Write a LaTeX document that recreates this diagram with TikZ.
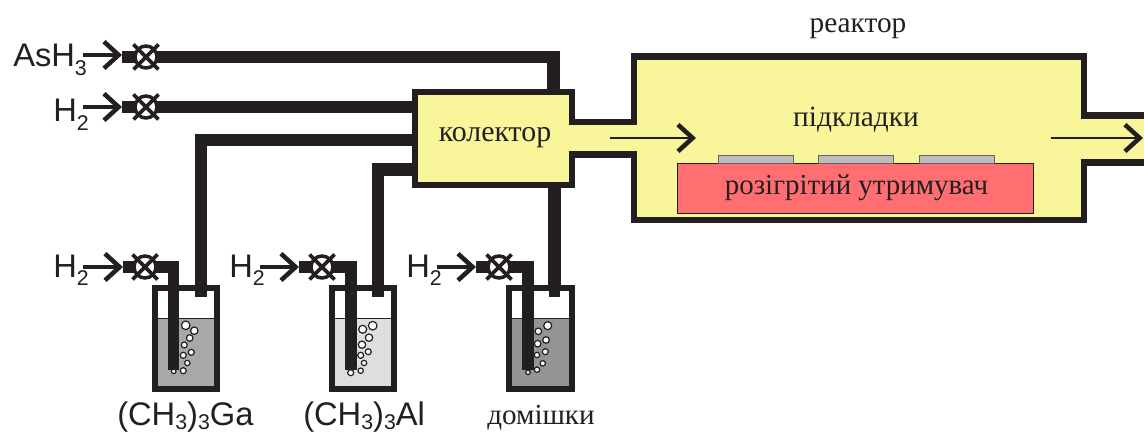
\documentclass[tikz,border=0pt]{standalone}
\usepackage{fontspec}
\setmainfont{Liberation Serif}
\newfontfamily\arialf{Liberation Sans}
\usetikzlibrary{arrows.meta}
\definecolor{ink}{HTML}{231F20}
\definecolor{pale}{HTML}{F8F59A}
\definecolor{heat}{HTML}{FF6F72}
\definecolor{subst}{HTML}{BDBDBD}
\newcommand{\chem}[1]{{\arialf\fontsize{24.5}{24.5}\selectfont #1}}
\newcommand{\subs}[1]{\raisebox{-6.5pt}{\fontsize{16}{16}\selectfont #1}}
\newcommand{\subt}[1]{\raisebox{-3.5pt}{\fontsize{16}{16}\selectfont #1}}
\tikzset{
  pipe/.style={draw=ink,line width=9.7pt,line join=miter},
  tube/.style={draw=ink,line width=8.9pt,line join=miter},
  wall/.style={draw=ink,line width=4.6pt,line join=miter},
  valvebody/.style={circle,draw=ink,fill=white,line width=2.6pt,minimum size=16.5pt,inner sep=0pt},
  valvecross/.style={draw=ink,line width=2.8pt},
  inflow/.style={draw=ink,line width=3.2pt,-{Straight Barb[length=11pt,width=20pt,line width=3.4pt]}},
  flow/.style={draw=ink,line width=2pt,-{Straight Barb[length=11pt,width=20pt,line width=3.4pt]}},
  chemlabel/.style={anchor=base west,inner sep=0pt,text=ink},
  serif/.style={anchor=base,inner sep=0pt,text=ink},
  bubble/.style={draw=ink,fill=white,line width=0.9pt},
  blank/.style={inner sep=0pt,minimum size=0pt},
  wafer/.style={draw=ink!70,fill=subst,line width=0.5pt,minimum width=56pt,minimum height=6pt,inner sep=0pt},
}
\newcommand{\valve}[2]{%
  \node[valvebody] (#1) at (#2) {};
  \draw[valvecross] ([shift={(-12.5,-12.5)}]#1.center) -- ([shift={(12.5,12.5)}]#1.center);
  \draw[valvecross] ([shift={(-12.5,12.5)}]#1.center) -- ([shift={(12.5,-12.5)}]#1.center);
}
\newcommand{\bubbles}[1]{\foreach \bx/\by/\br in {#1} {\draw[bubble] (\bx,\by) circle[radius=\br];}}
\begin{document}
\begin{tikzpicture}[x=0.75pt,y=-0.75pt]
\useasboundingbox (0,0) rectangle (1144,434);
\fill[white] (0,0) rectangle (1144,434);

% anchors
\coordinate (asin) at (122,57);
\coordinate (asturn) at (553.5,57);
\coordinate (hin) at (122,107);
\coordinate (colw) at (420,107);
\coordinate (ga) at (201,140);
\coordinate (gab) at (201,297);
\coordinate (gacol) at (420,140);
\coordinate (al) at (378,169.5);
\coordinate (alb) at (378,297);
\coordinate (alcol) at (420,169.5);
\coordinate (dopc) at (554.5,180);
\coordinate (dopb) at (554.5,297);
\coordinate (astop) at (553.5,95);

% main pipes
\draw[pipe] (asin) -- (asturn) -- (astop);
\draw[pipe] (hin) -- (colw);
\draw[pipe] (gacol) -- (ga) -- (gab);
\draw[pipe] (alcol) -- (al) -- (alb);
\draw[pipe] (dopc) -- (dopb);

% collector and reactor body
\fill[pale] (414.7,92) -- (572,92) -- (572,122) -- (634,122) -- (634,56.5) -- (1084,56.5) -- (1084,115.5) -- (1144,115.5) -- (1144,162.5) -- (1084,162.5) -- (1084,220) -- (634,220) -- (634,154.5) -- (572,154.5) -- (572,185) -- (414.7,185) -- cycle;
\draw[wall] (1144,115.5) -- (1084,115.5) -- (1084,56.5) -- (634,56.5) -- (634,122) -- (572,122) -- (572,92) -- (414.7,92) -- (414.7,185) -- (572,185) -- (572,154.5) -- (634,154.5) -- (634,220) -- (1084,220) -- (1084,162.5) -- (1144,162.5);

% heater and substrates
\node[draw=ink,fill=heat,line width=0.7pt,minimum width=267pt,minimum height=37.5pt,inner sep=0pt] (heater) at (855,188) {};
\node[wafer] (s1) at (755.5,159) {};
\node[wafer] (s2) at (856,159) {};
\node[wafer] (s3) at (956.5,159) {};

% texts
\node[serif,font=\fontsize{22}{22}\selectfont] (lreactor) at (858,33) {реактор};
\node[serif,font=\fontsize{22.4}{22.4}\selectfont] (lcol) at (495,142) {колектор};
\node[serif,font=\fontsize{22}{22}\selectfont] (lsub) at (856,127) {підкладки};
\node[serif,font=\fontsize{21.7}{21.7}\selectfont] (lheat) at (856.5,195) {розігрітий утримувач};
\node[serif,font=\fontsize{21.8}{21.8}\selectfont] (ldop) at (541,424) {домішки};

% flow arrows
\coordinate (fa) at (610,138); \coordinate (fb) at (696,138);
\coordinate (fc) at (1051,138); \coordinate (fd) at (1143,138);
\draw[flow] (fa) -- (fb);
\draw[flow] (fc) -- (fd);

% top gas lines
\valve{va}{146,57}
\valve{vh}{146,107}
\coordinate (aa) at (83,55); \coordinate (ab) at (122,55);
\coordinate (ha) at (83,107); \coordinate (hb) at (122,107);
\draw[inflow] (aa) -- (ab);
\draw[inflow] (ha) -- (hb);
\node[chemlabel] (las) at (13,67) {\chem{AsH\subs{3}}};
\node[chemlabel] (lh) at (53,122) {\chem{H\subs{2}}};

% bubblers
% 1
\fill[white] (155,288) rectangle (217,389);
\fill[black!34] (155,318) rectangle (217,389);
\draw[ink,line width=0.7pt] (155,318) -- (217,318);
\bubbles{185.7/325.3/4.3,194.3/330.7/3.7,189.7/338/3.3,184.3/345/3,191.3/352.3/3,183.3/355.3/3,187.3/363/2.7,183.3/370.7/3,173.7/371.3/2.3}
\node[blank] (b1) at (186,288) {};
\draw[wall] (155,288) rectangle (217,389);
\draw[tube] (201,285) -- (gab);
\coordinate (p1a) at (123,267); \coordinate (p1b) at (173.5,267); \coordinate (p1c) at (173.5,370);
\draw[tube] (p1a) -- (p1b) -- (p1c);
\valve{v1}{145,267}
\coordinate (a1) at (83,267);
\draw[inflow] (a1) -- (p1a);
\node[chemlabel] (lh1) at (53,277) {\chem{H\subs{2}}};
\node[chemlabel] (lga) at (117,425) {\chem{(CH\subt{3})\subt{3}Ga}};

% 2
\fill[white] (332,288) rectangle (394,389);
\fill[black!13] (332,318) rectangle (394,389);
\draw[ink,line width=0.7pt] (332,318) -- (394,318);
\bubbles{372.7/325.7/4.3,362.7/329.3/4,369/337.7/3.7,362/344.7/3.7,368.3/351.7/3,360.7/355.3/3,364/363/2.7,360.7/370.7/2.7,350.7/372.7/3}
\node[blank] (b2) at (363,288) {};
\draw[wall] (332,288) rectangle (394,389);
\draw[tube] (378,285) -- (alb);
\coordinate (p2a) at (299,267); \coordinate (p2b) at (351,267); \coordinate (p2c) at (351,370);
\draw[tube] (p2a) -- (p2b) -- (p2c);
\valve{v2}{322,267}
\coordinate (a2) at (260,267);
\draw[inflow] (a2) -- (p2a);
\node[chemlabel] (lh2) at (229,277) {\chem{H\subs{2}}};
\node[chemlabel] (lal) at (303,425) {\chem{(CH\subt{3})\subt{3}Al}};

% 3
\fill[white] (509,288) rectangle (572,389);
\fill[black!42] (509,318) rectangle (572,389);
\draw[ink,line width=0.7pt] (509,318) -- (572,318);
\bubbles{547.7/325.7/4,538.3/331.3/3.3,546/340/3.3,537.7/343.7/3.3,545.3/351.7/3,537/355/2.7,542.7/363.3/2.7,537/369.7/2.7,528/372.3/2.3}
\node[blank] (b3) at (540,288) {};
\draw[wall] (509,288) rectangle (572,389);
\draw[tube] (554.5,285) -- (dopb);
\coordinate (p3a) at (476,267); \coordinate (p3b) at (528,267); \coordinate (p3c) at (528,370);
\draw[tube] (p3a) -- (p3b) -- (p3c);
\valve{v3}{499,267}
\coordinate (a3) at (437,267);
\draw[inflow] (a3) -- (p3a);
\node[chemlabel] (lh3) at (406,277) {\chem{H\subs{2}}};
\end{tikzpicture}
\end{document}
